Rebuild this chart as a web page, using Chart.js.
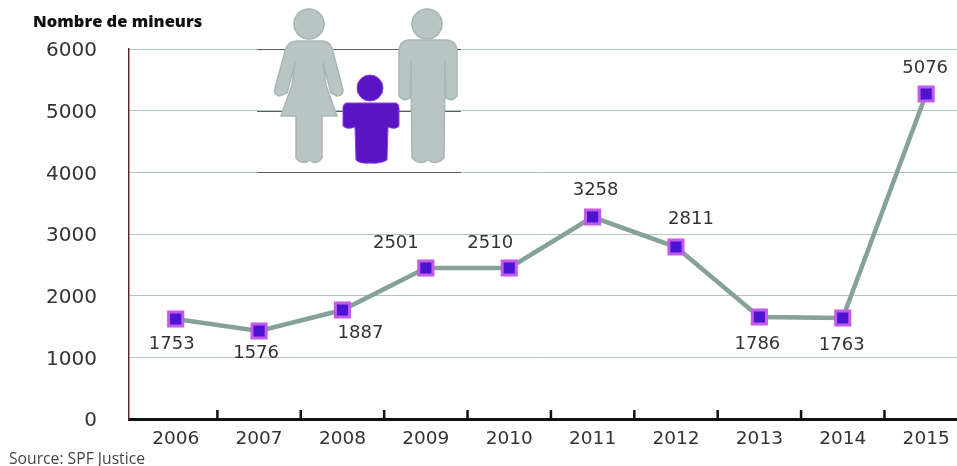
<!DOCTYPE html>
<html>
<head>
<meta charset="utf-8">
<style>
  body { margin: 0; background: #fff; overflow: hidden; }
  #wrap { position: relative; width: 957px; height: 466px; font-family: "Open Sans", sans-serif; }
  #titre { position: absolute; left: 33px; top: 9px; font-size: 16.5px; font-weight: 800; color: #111; white-space: nowrap; }
  #source { position: absolute; left: 9px; top: 447px; font-size: 15.7px; color: #444; white-space: nowrap; }
  #figures { position: absolute; left: 0; top: 0; }
</style>
</head>
<body>
<div id="wrap">
  <canvas id="graph" width="957" height="466"></canvas>
  <svg id="figures" width="957" height="466">
    <g fill="#b9c4c4" stroke="#a9b6b5" stroke-width="1.5" stroke-linejoin="round">
      <circle cx="309" cy="24" r="15"/>
      <path d="M298 41 L322 41 Q329 41 332 48 L343 90 Q343 96 337 96 L331 93 L323 63 L326 85 L337 116 L322 116 L322 158 Q316 166 310 160 Q303 166 296 158 L296 116 L281 116 L292 85 L295 63 L287 93 L279 96 Q273 94 275 88 L286 48 Q289 41 298 41 Z"/>
      <circle cx="427" cy="24" r="15"/>
      <path d="M408 40 L447 40 Q457 41 457 52 L457 96 Q452 102 446 98 L445 62 L444 158 Q436 166 428 160 Q420 166 412 158 L411 62 L410 98 Q404 102 399 96 L399 52 Q399 41 408 40 Z"/>
    </g>
    <g fill="#5a14c4" stroke="#8a3fe0" stroke-width="1">
      <circle cx="370" cy="88" r="13"/>
      <path d="M346 103 L396 103 Q399 104 399 108 L399 126 Q396 130 388 127 L387 160 Q380 164 370 163 Q360 164 356 160 L355 127 Q347 130 343 126 L343 108 Q343 104 346 103 Z"/>
    </g>
  </svg>
  <div id="titre">Nombre de mineurs</div>
  <div id="source">Source: SPF Justice</div>
</div>

<script src="https://cdn.jsdelivr.net/npm/chart.js@4"></script>
<script>
var annees = [2006, 2007, 2008, 2009, 2010, 2011, 2012, 2013, 2014, 2015];
// hauteur (ne colle pas toujours au chiffre imprimé)
var hauteurs = [1621, 1427, 1767, 2448, 2448, 3275, 2789, 1654, 1638, 5270];
// chiffres imprimés à coté des points
var etiquettes = ["1753", "1576", "1887", "2501", "2510", "3258", "2811", "1786", "1763", "5076"];
var graduations = [0, 1000, 2000, 3000, 4000, 5000, 6000];

// decalage de chaque etiquette par rapport a son point
var decalageX = [-4, -3, 18, -30, -19, 3, 15, -2, -1, -1];
var decalageY = [25, 22, 23, -25, -25, -27, -28, 27, 27, -26];

var police = "'DejaVu Sans', sans-serif";

var decor = {
  id: "decor",
  beforeDatasetsDraw: function (chart) {
    var ctx = chart.ctx, x = chart.scales.x, y = chart.scales.y;
    // lignes plus foncees derriere les personnages
    ctx.save();
    ctx.strokeStyle = "#55605c";
    ctx.lineWidth = 1;
    [4000, 5000, 6000].forEach(function (v) {
      var py = Math.round(y.getPixelForValue(v)) + 0.5;
      ctx.beginPath();
      ctx.moveTo(257, py);
      ctx.lineTo(461, py);
      ctx.stroke();
    });
    // petits traits entre les annees
    ctx.strokeStyle = "#111";
    ctx.lineWidth = 2.5;
    annees.forEach(function (a) {
      if (a == 2015) return;
      var px = x.getPixelForValue(a + 0.5);
      ctx.beginPath();
      ctx.moveTo(px, y.bottom);
      ctx.lineTo(px, y.bottom - 9);
      ctx.stroke();
    });
    ctx.restore();
  },
  afterDatasetsDraw: function (chart) {
    var ctx = chart.ctx;
    var points = chart.getDatasetMeta(0).data;
    ctx.save();
    ctx.font = "18px " + police;
    ctx.fillStyle = "#333";
    ctx.textAlign = "center";
    ctx.textBaseline = "middle";
    points.forEach(function (p, i) {
      ctx.fillText(etiquettes[i], p.x + decalageX[i], p.y + decalageY[i]);
    });
    ctx.restore();
  }
};

new Chart(document.getElementById("graph"), {
  type: "line",
  data: {
    datasets: [{
      data: annees.map(function (a, i) { return { x: a, y: hauteurs[i] }; }),
      borderColor: "#86a09a",
      borderWidth: 4.5,
      tension: 0,
      fill: false,
      pointStyle: "rect",
      pointRadius: 10,
      pointBorderWidth: 3,
      pointBackgroundColor: "#4a14d0",
      pointBorderColor: "#c45ae8"
    }]
  },
  options: {
    responsive: false,
    animation: false,
    layout: { autoPadding: false, padding: { top: 49, right: 0, bottom: 0, left: 0 } },
    plugins: { legend: { display: false }, title: { display: false }, tooltip: { enabled: false } },
    scales: {
      x: {
        type: "linear",
        min: 2005.44,
        max: 2015.37,
        afterBuildTicks: function (axis) {
          axis.ticks = annees.map(function (a) { return { value: a }; });
        },
        afterFit: function (axis) {
          axis.height = 47;
          axis.paddingRight = 0;
          axis.paddingLeft = 0;
        },
        grid: { display: false },
        border: { color: "#111", width: 3 },
        ticks: {
          autoSkip: false,
          maxRotation: 0,
          padding: 1,
          color: "#333",
          font: { family: police, size: 18.5 },
          callback: function (v) { return String(v); }
        }
      },
      y: {
        min: 0,
        max: 6000,
        afterBuildTicks: function (axis) {
          axis.ticks = graduations.map(function (g) { return { value: g }; });
        },
        afterFit: function (axis) {
          axis.width = 129;
          axis.paddingTop = 0;
          axis.paddingBottom = 0;
        },
        grid: { color: "#b4c4be", lineWidth: 1, drawTicks: false },
        border: { color: "#5a2a2a", width: 1.5 },
        ticks: {
          padding: 32,
          color: "#333",
          labelOffset: 2,
          font: { family: police, size: 20 },
          callback: function (v) { return String(v); }
        }
      }
    }
  },
  plugins: [decor]
});
</script>
</body>
</html>
